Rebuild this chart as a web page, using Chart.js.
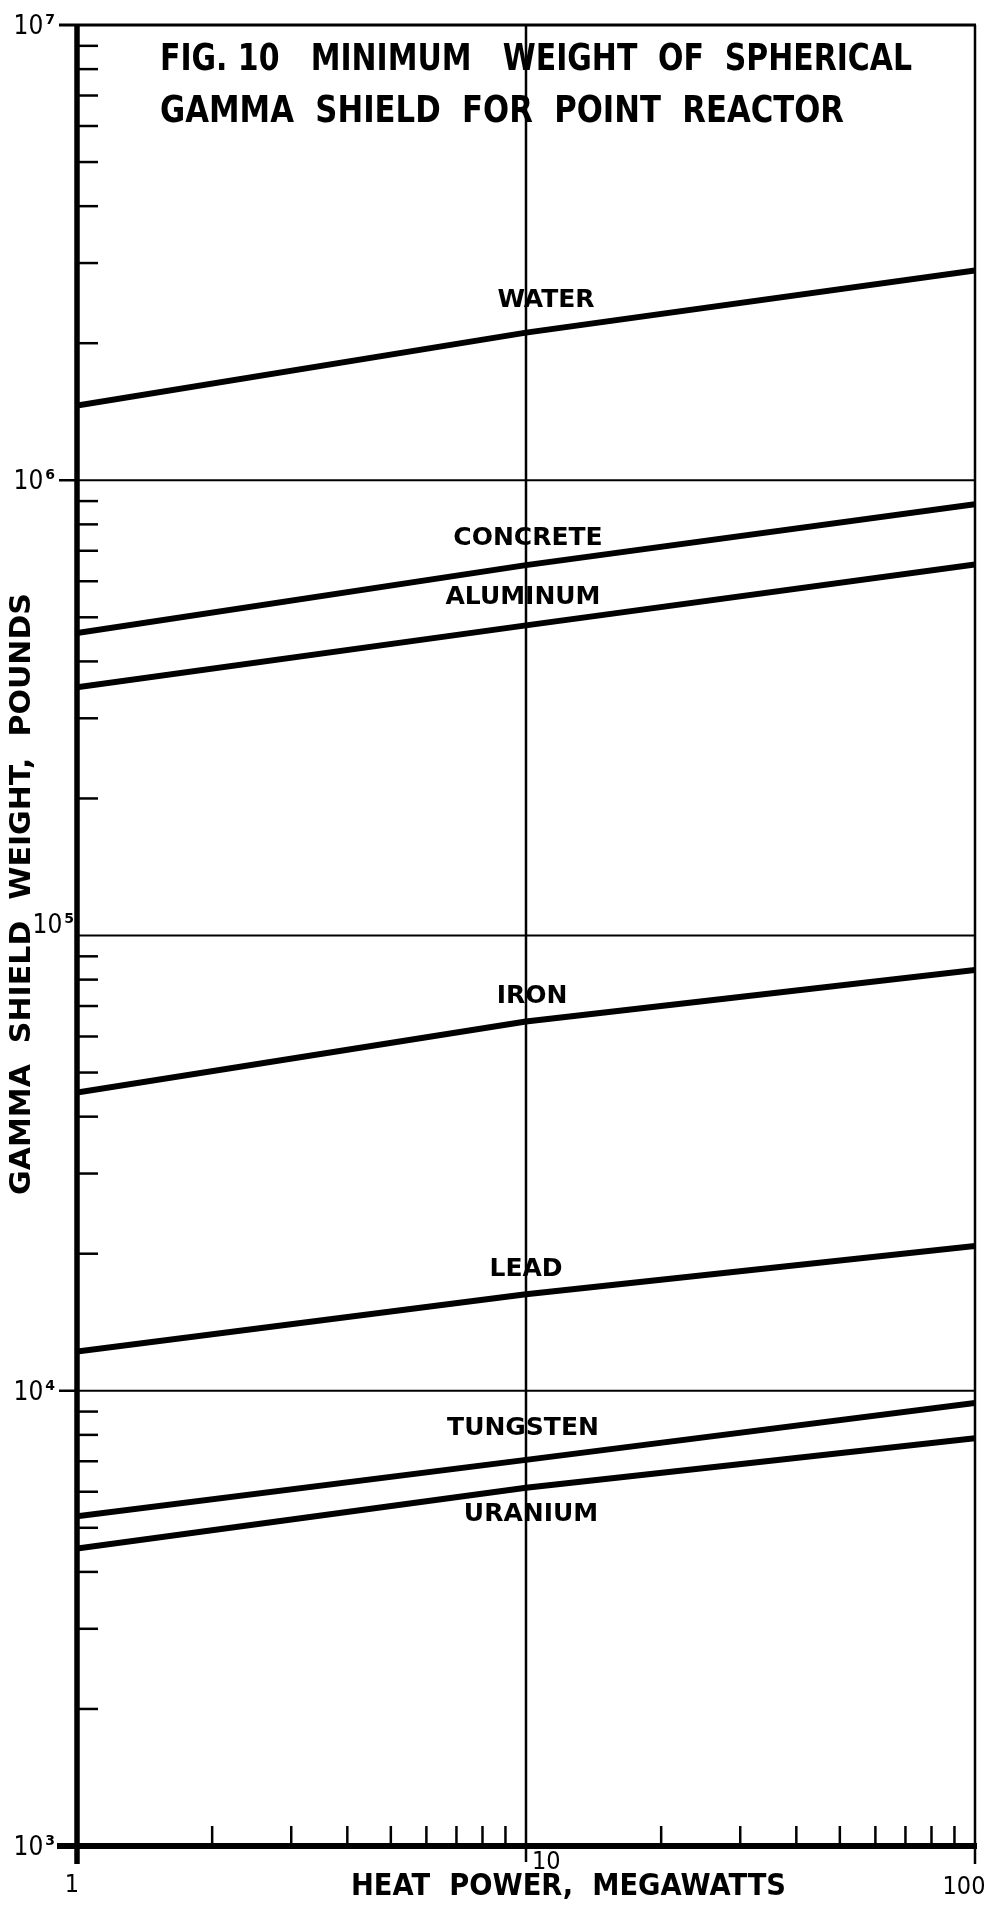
<!DOCTYPE html>
<html>
<head>
<meta charset="utf-8">
<script src="https://cdn.jsdelivr.net/npm/chart.js@4.4.1/dist/chart.umd.min.js"></script>
<style>
  html, body { margin: 0; padding: 0; background: #fff; }
  #wrap { width: 994px; height: 1910px; }
</style>
</head>
<body>
<div id="wrap"><canvas id="chart" width="994" height="1910"></canvas></div>
<script>
// heat power, MW (x) and shield weight, lb (y)
var power = [1, 10, 100];
var water = [1.46e6, 2.11e6, 2.89e6];
var concrete = [4.62e5, 6.51e5, 8.86e5];
var aluminum = [3.51e5, 4.80e5, 6.53e5];
var iron = [4.52e4, 6.47e4, 8.40e4];
var lead = [1.22e4, 1.63e4, 2.08e4];
var tungsten = [5.30e3, 7.05e3, 9.40e3];
var uranium = [4.50e3, 6.12e3, 7.87e3];
var materials = ['WATER', 'CONCRETE', 'ALUMINUM', 'IRON', 'LEAD', 'TUNGSTEN', 'URANIUM'];
var xTickLabels = ['1', '10', '100'];
var yExponents = [3, 4, 5, 6, 7];

var series = [water, concrete, aluminum, iron, lead, tungsten, uranium];
// label placement relative to the line at 10 MW
var labelDx = [20, 2, -3, 6, 0, -3, 5];
var labelDy = [-32, -27, -28, -25, -25, -31, 27];

var FONT = '"DejaVu Sans", sans-serif';
var COND = '"DejaVu Sans Condensed", "DejaVu Sans", sans-serif';

function fitText(ctx, text, x, y, width) {
  var w = ctx.measureText(text).width;
  ctx.save();
  ctx.translate(x, y);
  ctx.scale(width / w, 1);
  ctx.textAlign = 'left';
  ctx.fillText(text, 0, 0);
  ctx.restore();
}

function drawPow(ctx, exp, right, mid) {
  ctx.textAlign = 'left';
  ctx.textBaseline = 'alphabetic';
  ctx.font = '26px ' + COND;
  var w1 = ctx.measureText('10').width;
  ctx.font = 'bold 14px ' + FONT;
  var w2 = ctx.measureText('' + exp).width;
  var left = right - w1 - w2 - 2;
  ctx.font = '26px ' + COND;
  ctx.fillText('10', left, mid + 9);
  ctx.font = 'bold 14px ' + FONT;
  ctx.fillText('' + exp, left + w1 + 2, mid - 1);
}

function line(ctx, x1, y1, x2, y2, w) {
  ctx.lineWidth = w;
  ctx.beginPath();
  ctx.moveTo(x1, y1);
  ctx.lineTo(x2, y2);
  ctx.stroke();
}

var framePlugin = {
  id: 'frame',
  beforeDatasetsDraw: function (chart) {
    var ctx = chart.ctx, a = chart.chartArea;
    var xs = chart.scales.x, ys = chart.scales.y;
    ctx.save();
    ctx.strokeStyle = '#000';
    ctx.lineCap = 'butt';
    // minor ticks on the y axis
    for (var e = 3; e < 7; e++) {
      for (var m = 2; m <= 9; m++) {
        var y = ys.getPixelForValue(m * Math.pow(10, e));
        line(ctx, a.left, y, a.left + 21, y, 2.5);
      }
    }
    // minor ticks on the x axis
    for (var d = 1; d < 100; d *= 10) {
      for (var k = 2; k <= 9; k++) {
        var x = xs.getPixelForValue(k * d);
        line(ctx, x, a.bottom, x, a.bottom - 20, 2.5);
      }
    }
    // decade grid lines
    yExponents.forEach(function (e) {
      var y = ys.getPixelForValue(Math.pow(10, e));
      if (e == 3) {
        line(ctx, a.left - 20, y, a.right + 2, y, 6);
      } else if (e == 7) {
        line(ctx, a.left - 18, y, a.right + 1, y, 3);
      } else {
        line(ctx, a.left, y, a.right, y, 2);
        if (e != 5) line(ctx, a.left - 18, y, a.left, y, 2.5);
      }
    });
    var x10 = xs.getPixelForValue(10);
    line(ctx, x10, a.top, x10, a.bottom + 16, 2.5);
    line(ctx, a.right, a.top, a.right, a.bottom + 18, 2.5);
    line(ctx, a.left, a.top - 1, a.left, a.bottom + 18, 5.5);
    ctx.restore();
  },
  afterDraw: function (chart) {
    var ctx = chart.ctx, a = chart.chartArea;
    var xs = chart.scales.x, ys = chart.scales.y;
    ctx.save();
    ctx.fillStyle = '#000';

    // y tick labels
    yExponents.forEach(function (e) {
      var y = ys.getPixelForValue(Math.pow(10, e));
      if (e == 5) drawPow(ctx, e, a.left - 3, y - 12);
      else drawPow(ctx, e, a.left - 22, y);
    });

    // x tick labels
    ctx.font = '25px ' + COND;
    ctx.textBaseline = 'middle';
    ctx.textAlign = 'center';
    ctx.fillText(xTickLabels[0], xs.getPixelForValue(power[0]) - 5, 1885);
    ctx.textAlign = 'left';
    ctx.fillText(xTickLabels[1], xs.getPixelForValue(power[1]) + 6, 1862);
    ctx.textAlign = 'center';
    ctx.fillText(xTickLabels[2], xs.getPixelForValue(power[2]) - 11, 1887);

    // axis titles
    ctx.font = 'bold 30px ' + FONT;
    ctx.textBaseline = 'middle';
    fitText(ctx, 'HEAT  POWER,  MEGAWATTS', 351, 1887, 435);
    ctx.save();
    ctx.translate(23, 1195);
    ctx.rotate(-Math.PI / 2);
    ctx.font = 'bold 28px ' + FONT;
    fitText(ctx, 'GAMMA  SHIELD  WEIGHT,  POUNDS', 0, 0, 602);
    ctx.restore();

    // figure title
    ctx.font = 'bold 38px ' + COND;
    ctx.textBaseline = 'middle';
    fitText(ctx, 'FIG. 10   MINIMUM   WEIGHT  OF  SPHERICAL', 160, 60, 752);
    fitText(ctx, 'GAMMA  SHIELD  FOR  POINT  REACTOR', 160, 112, 684);

    // material labels
    ctx.font = 'bold 25px ' + FONT;
    ctx.textAlign = 'center';
    ctx.textBaseline = 'middle';
    chart.data.datasets.forEach(function (ds, i) {
      var pt = chart.getDatasetMeta(i).data[1];
      ctx.fillText(ds.label, pt.x + labelDx[i], pt.y + labelDy[i]);
    });
    ctx.restore();
  }
};

var datasets = series.map(function (vals, i) {
  return {
    label: materials[i],
    data: power.map(function (p, j) { return { x: p, y: vals[j] }; }),
    showLine: true,
    borderColor: '#000',
    borderWidth: 6,
    pointRadius: 0,
    borderCapStyle: 'butt',
    tension: 0
  };
});

new Chart(document.getElementById('chart'), {
  type: 'scatter',
  data: { datasets: datasets },
  options: {
    responsive: false,
    animation: false,
    devicePixelRatio: 1,
    layout: { padding: { left: 77, right: 19, top: 25, bottom: 64 } },
    plugins: { legend: { display: false }, tooltip: { enabled: false } },
    scales: {
      x: { type: 'logarithmic', min: 1, max: 100, display: false },
      y: { type: 'logarithmic', min: 1000, max: 1e7, display: false }
    }
  },
  plugins: [framePlugin]
});
</script>
</body>
</html>
